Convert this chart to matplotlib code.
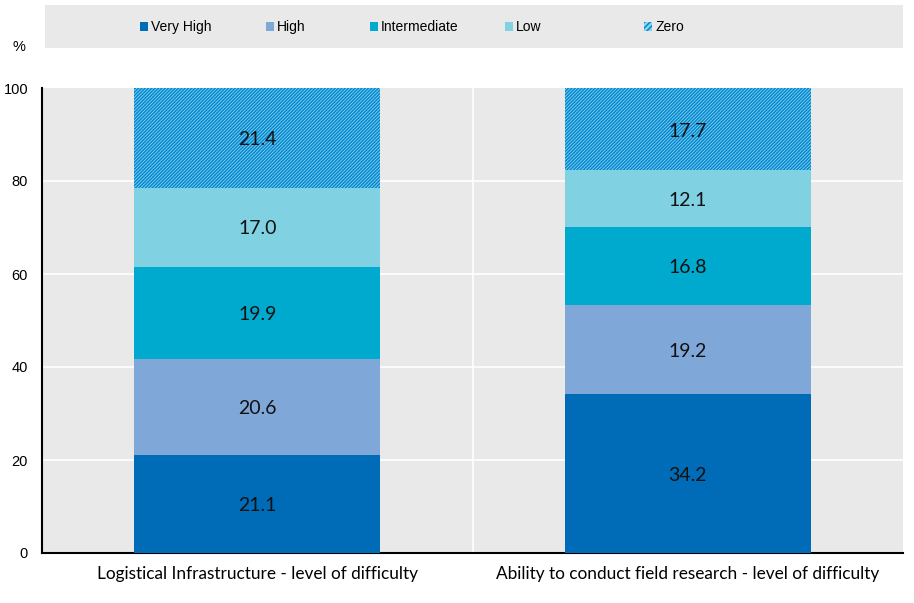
import matplotlib
matplotlib.use("Agg")
import matplotlib.pyplot as plt
from matplotlib.patches import Rectangle, Patch
import numpy as np

categories = ["Logistical Infrastructure - level of difficulty",
              "Ability to conduct field research - level of difficulty"]
series = ["Very High", "High", "Intermediate", "Low", "Zero"]
very_high = [21.1, 34.2]
high = [20.6, 19.2]
intermediate = [19.9, 16.8]
low = [17.0, 12.1]
zero = [21.4, 17.7]
values = [very_high, high, intermediate, low, zero]
colors = ["#006BB6", "#7FA8D9", "#00A9CE", "#80D2E3", "#8ED3EF"]
yticks = [0, 20, 40, 60, 80, 100]

plt.rcParams['hatch.linewidth'] = 1.1
fig = plt.figure(figsize=(9.14, 6.03), dpi=100)
ax = fig.add_axes([42/914, 50/603, 861/914, 465/603])
ax.set_facecolor("#E9E9E9")
x = np.arange(len(categories))
bottom = np.zeros(len(categories))
for i, (name, vals) in enumerate(zip(series, values)):
    if name == "Zero":
        ax.bar(x, vals, 0.572, bottom=bottom, color=colors[i], edgecolor="#0088D1",
               hatch="/" * 10, linewidth=0, zorder=3)
    else:
        ax.bar(x, vals, 0.572, bottom=bottom, color=colors[i], linewidth=0, zorder=3)
    for xi, v, b in zip(x, vals, bottom):
        ax.text(xi, b + v / 2 - 0.4, f"{v:.1f}", ha="center", va="center", fontsize=14,
                family="Lato", color="#111111", zorder=4)
    bottom += np.array(vals)

ax.set_xlim(-0.5, 1.5)
ax.set_ylim(0, 100)
ax.set_yticks(yticks)
ax.set_yticklabels([str(t) for t in yticks], family="Liberation Sans", fontsize=10.5)
for t in [20, 40, 60, 80]:
    ax.axhline(t, color="white", lw=1.2, zorder=1)
ax.axvline(0.5, color="white", lw=1.2, zorder=1)
ax.set_xticks(x)
ax.set_xticklabels(categories, family="Lato", fontsize=12.4)
ax.tick_params(axis="both", length=0)
ax.tick_params(axis="x", pad=9)
ax.tick_params(axis="y", pad=10)
for s in ["top", "right"]:
    ax.spines[s].set_visible(False)
for s in ["left", "bottom"]:
    ax.spines[s].set_color("black")
    ax.spines[s].set_linewidth(1.5)
fig.text(19/914, 1 - 47/603, "%", family="Liberation Sans", fontsize=10.5, ha="center", va="center")

# legend band
fig.patches.append(Rectangle((45/914, 1 - 48/603), 858/914, 43/603, transform=fig.transFigure,
                             facecolor="#E9E9E9", edgecolor="none", zorder=0))
marker_x = [140, 266, 370, 505, 644]
for i, name in enumerate(series):
    if name == "Zero":
        h = Patch(facecolor=colors[i], edgecolor="#0088D1", hatch="/" * 6, linewidth=0, label=name)
    else:
        h = Patch(facecolor=colors[i], linewidth=0, label=name)
    fig.legend(handles=[h], loc="center left", bbox_to_anchor=(marker_x[i]/914, 1 - 27/603),
               frameon=False, handlelength=0.6, handleheight=0.6, handletextpad=0.2,
               borderpad=0, borderaxespad=0,
               prop={"family": ["Liberation Sans Narrow", "Liberation Sans"], "size": 10})
fig.savefig("out.png", dpi=100)
